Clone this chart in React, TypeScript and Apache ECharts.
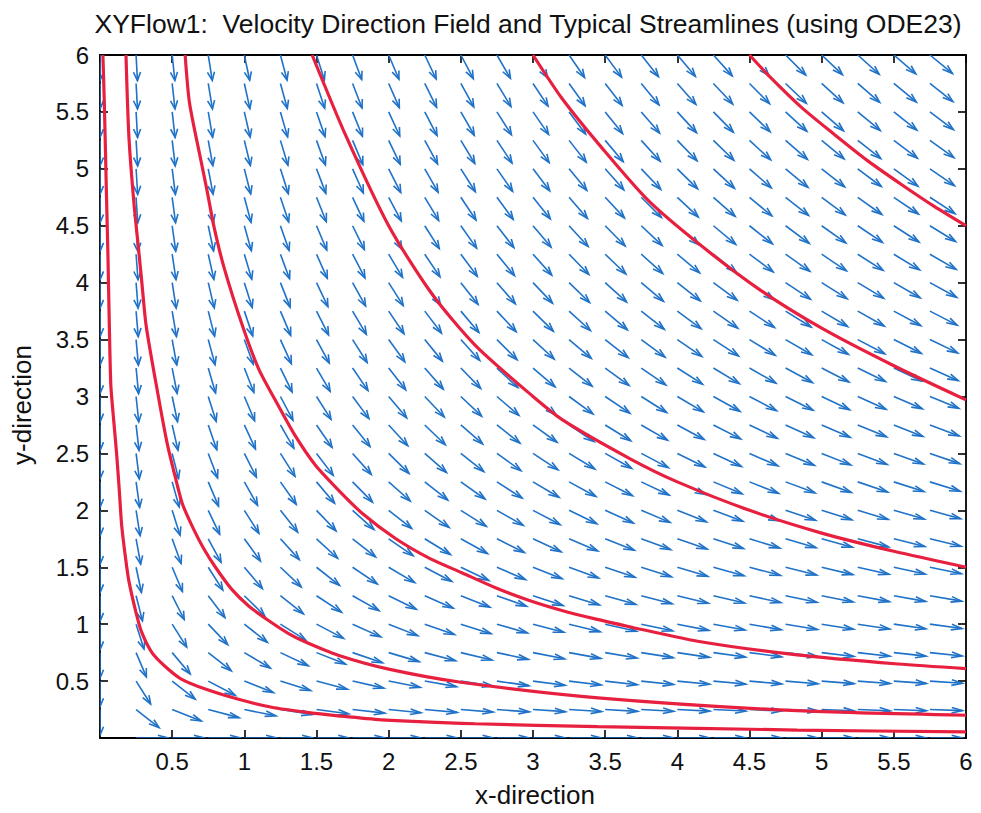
import React, { useEffect, useRef } from "react";
import * as echarts from "echarts";

// Grid of points where the velocity direction arrows are drawn
const GRID_X = [0, 0.25, 0.5, 0.75, 1, 1.25, 1.5, 1.75, 2, 2.25, 2.5, 2.75, 3, 3.25, 3.5, 3.75, 4, 4.25, 4.5, 4.75, 5, 5.25, 5.5, 5.75, 6];
const GRID_Y = [0, 0.25, 0.5, 0.75, 1, 1.25, 1.5, 1.75, 2, 2.25, 2.5, 2.75, 3, 3.25, 3.5, 3.75, 4, 4.25, 4.5, 4.75, 5, 5.25, 5.5, 5.75, 6];

// Streamlines
const CURVE_1 = [[4.5, 6.0], [4.64, 5.81], [4.86, 5.54], [5.09, 5.3], [5.32, 5.07], [5.55, 4.865], [5.78, 4.67], [6.0, 4.5]];
const CURVE_2 = [[3.0, 6.0], [3.2, 5.62], [3.48, 5.18], [3.8, 4.72], [4.16, 4.33], [4.58, 3.93], [5.0, 3.6], [5.5, 3.27], [6.0, 2.97]];
const CURVE_3 = [[1.47, 6.0], [1.7, 5.3], [2.0, 4.5], [2.3, 3.9], [2.6, 3.45], [3.0, 3.0], [3.21, 2.79], [3.67, 2.455], [4.0, 2.25], [4.5, 2.0], [5.0, 1.8], [5.5, 1.64], [6.0, 1.5]];
const CURVE_4 = [[0.59, 6.0], [0.62, 5.58], [0.69, 5.13], [0.74, 4.82], [0.79, 4.49], [0.86, 4.13], [0.99, 3.61], [1.1, 3.24], [1.235, 2.92], [1.35, 2.66], [1.49, 2.4], [1.65, 2.18], [1.82, 1.97], [2.05, 1.75], [2.28, 1.58], [2.51, 1.45], [2.74, 1.32], [2.97, 1.21], [3.2, 1.12], [3.43, 1.046], [3.66, 0.98], [4.14, 0.85], [4.83, 0.73], [5.53, 0.65], [6.0, 0.61]];
const CURVE_5 = [[0.18, 6.0], [0.2, 5.29], [0.235, 4.7], [0.27, 4.26], [0.29, 4.0], [0.32, 3.62], [0.4, 3.03], [0.465, 2.59], [0.52, 2.3], [0.57, 2.06], [0.65, 1.83], [0.72, 1.66], [0.8, 1.5], [0.91, 1.31], [1.03, 1.16], [1.17, 1.03], [1.31, 0.915], [1.42, 0.845], [1.65, 0.727], [2.0, 0.605], [2.5, 0.49], [3.45, 0.353], [4.83, 0.24], [6.0, 0.2]];
const CURVE_6 = [[0.02, 6.0], [0.03, 5.58], [0.045, 4.76], [0.055, 4.24], [0.065, 3.6], [0.075, 3.1], [0.09, 2.86], [0.115, 2.5], [0.135, 2.15], [0.15, 1.87], [0.175, 1.6], [0.2, 1.38], [0.25, 1.1], [0.29, 0.925], [0.36, 0.75], [0.45, 0.63], [0.56, 0.52], [0.73, 0.43], [0.96, 0.34], [1.19, 0.27], [1.42, 0.228], [1.65, 0.195], [1.95, 0.16], [2.6, 0.125], [3.45, 0.1], [4.83, 0.07], [6.0, 0.053]];
const STREAMLINES = [CURVE_1, CURVE_2, CURVE_3, CURVE_4, CURVE_5, CURVE_6];

const TITLE = "XYFlow1:  Velocity Direction Field and Typical Streamlines (using ODE23)";
const X_NAME = "x-direction";
const Y_NAME = "y-direction";

// Velocity field of the flow: u = x, v = -y
const velocity = (x: number, y: number) => [x, -y];

const BLUE = "#1f72c8";
const RED = "#e8203f";
const FONT = "'Liberation Sans', Arial, Helvetica, sans-serif";
const ARROW_LEN = 0.225;
const HEAD_ALPHA = 0.33;
const HEAD_BETA = 0.33;

export default function App() {
  const ref = useRef<HTMLDivElement>(null);

  useEffect(() => {
    if (!ref.current) return;
    const chart = echarts.init(ref.current, null, { renderer: "svg" });

    const arrowPoints: number[][] = [];
    for (const x of GRID_X) for (const y of GRID_Y) arrowPoints.push([x, y]);

    const axisCommon: any = {
      type: "value",
      min: 0,
      max: 6,
      interval: 0.5,
      splitLine: { show: false },
      axisLine: { show: true, onZero: false, lineStyle: { color: "#000", width: 1.8 } },
      axisTick: { show: true, inside: true, length: 8, lineStyle: { color: "#000", width: 1.6 } },
    };
    const labelStyle = {
      fontSize: 24,
      color: "#111",
      fontFamily: FONT,
      margin: 11,
      formatter: (v: number) => (v === 0 ? "" : String(v)),
    };

    const option: any = {
      animation: false,
      backgroundColor: "#fff",
      grid: { left: 100, right: 15, top: 55, bottom: 75 },
      xAxis: [
        { ...axisCommon, position: "bottom", axisLabel: labelStyle },
        { ...axisCommon, position: "top", axisLabel: { show: false } },
      ],
      yAxis: [
        { ...axisCommon, position: "left", axisLabel: labelStyle },
        { ...axisCommon, position: "right", axisLabel: { show: false } },
      ],
      graphic: [
        {
          type: "text",
          x: 528,
          y: 24,
          style: { text: TITLE, font: `26.5px ${FONT}`, fill: "#111", textAlign: "center", textVerticalAlign: "middle" },
        },
        {
          type: "text",
          x: 535,
          y: 795,
          style: { text: X_NAME, font: `26px ${FONT}`, fill: "#111", textAlign: "center", textVerticalAlign: "middle" },
        },
        {
          type: "text",
          x: 22,
          y: 405,
          rotation: Math.PI / 2,
          style: { text: Y_NAME, font: `26px ${FONT}`, fill: "#111", textAlign: "center", textVerticalAlign: "middle" },
        },
      ],
      series: [
        {
          type: "custom",
          coordinateSystem: "cartesian2d",
          xAxisIndex: 0,
          yAxisIndex: 0,
          clip: true,
          silent: true,
          z: 2,
          encode: { x: 0, y: 1 },
          data: arrowPoints,
          renderItem: (params: any, api: any) => {
            const x = api.value(0);
            const y = api.value(1);
            const [u0, v0] = velocity(x, y);
            const n = Math.hypot(u0, v0);
            if (n === 0) return null;
            const u = (u0 / n) * ARROW_LEN;
            const v = (v0 / n) * ARROW_LEN;
            const tx = x + u;
            const ty = y + v;
            const h1 = [tx - HEAD_ALPHA * (u + HEAD_BETA * v), ty - HEAD_ALPHA * (v - HEAD_BETA * u)];
            const h2 = [tx - HEAD_ALPHA * (u - HEAD_BETA * v), ty - HEAD_ALPHA * (v + HEAD_BETA * u)];
            const p0 = api.coord([x, y]);
            const pt = api.coord([tx, ty]);
            const ph1 = api.coord(h1);
            const ph2 = api.coord(h2);
            const style = { stroke: BLUE, lineWidth: 1.6, fill: "none" };
            return {
              type: "group",
              children: [
                { type: "polyline", shape: { points: [p0, pt] }, style },
                { type: "polyline", shape: { points: [ph1, pt, ph2] }, style },
              ],
            };
          },
        },
        ...STREAMLINES.map((c) => ({
          type: "line",
          xAxisIndex: 0,
          yAxisIndex: 0,
          data: c,
          showSymbol: false,
          symbol: "none",
          smooth: 0.25,
          clip: true,
          silent: true,
          z: 3,
          lineStyle: { color: RED, width: 3.2 },
        })),
      ],
    };

    chart.setOption(option);
    return () => chart.dispose();
  }, []);

  return (
    <div
      ref={ref}
      style={{ position: "absolute", left: 0, top: 0, width: 981, height: 813, background: "#fff" }}
    />
  );
}
